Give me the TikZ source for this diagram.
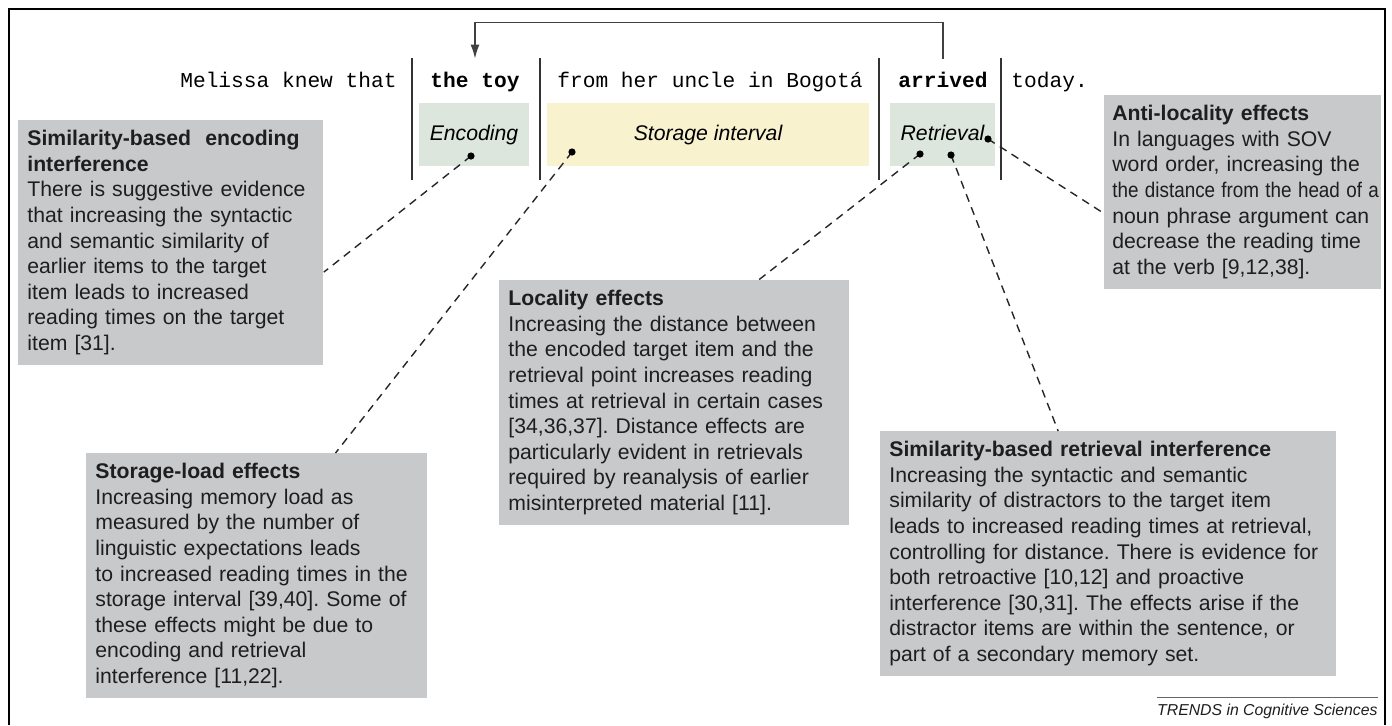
\documentclass[tikz,border=0pt]{standalone}
\usepackage{fontspec}
\setmainfont{Liberation Sans}
\setmonofont{Liberation Mono}
\usetikzlibrary{arrows.meta,calc}
\definecolor{notegray}{HTML}{C8C9CB}
\definecolor{encgreen}{HTML}{DCE6DC}
\definecolor{storeyellow}{HTML}{F8F2CE}
\definecolor{inkgray}{HTML}{1E1E1E}
\newcommand\notesize{\fontsize{10.6}{12.8}\selectfont\frenchspacing}

\tikzset{
  word/.style={font=\notesize\ttfamily, inner sep=0pt, minimum height=23pt, text height=7.5pt, text depth=2pt},
  stage/.style={font=\notesize\itshape, inner sep=0pt, minimum height=31.5pt, text height=7.5pt, text depth=2pt},
  note/.style={fill=notegray, text=inkgray, font=\notesize, anchor=north west, align=left, inner xsep=4.5pt, inner ysep=5pt},
  divider/.style={line width=0.8pt, black!80},
  leader/.style={line width=0.7pt, dash pattern=on 4pt off 3pt, black!85},
}

\begin{document}
\begin{tikzpicture}[x=0.5pt, y=-0.5pt]
  \useasboundingbox (0,0) rectangle (1392,725);
  \draw[line width=1pt] (9,725) -- (9,9) -- (1385,9) -- (1385,725);

  % sentence
  \node[word, anchor=east] (melissa) at (397,82) {Melissa knew that};
  \node[word] (thetoy) at (475,82) {\textbf{the toy}};
  \node[word] (uncle) at (710,82) {from her uncle in Bogotá};
  \node[word] (arrived) at (943,82) {\textbf{arrived}};
  \node[word, anchor=west] (today) at (1011,82) {today.};
  \foreach \x in {412,540,879,1001}
    \draw[divider] (\x,58) -- (\x,180);
  \draw[-{Latex[length=7pt,width=4.5pt]}, line width=0.8pt, black!75] (arrived.north) -- ++(0,-36) -| (thetoy.north);

  % stages
  \node[stage, fill=encgreen, minimum width=55pt] (encoding) at (474,134.5) {Encoding};
  \node[stage, fill=storeyellow, minimum width=161pt] (interval) at (708,134.5) {Storage interval};
  \node[stage, fill=encgreen, minimum width=52.5pt] (retrieval) at (942.5,134.5) {Retrieval};

  % notes
  \node[note, text width=143.5pt] (encnote) at (18,120) {\textbf{Similarity-based~ encoding}\\
    \textbf{interference}\\
    There is suggestive evidence\\
    that increasing the syntactic\\
    and semantic similarity of\\
    earlier items to the target\\
    item leads to increased\\
    reading times on the target\\
    item [31].};
  \node[note, text width=161.5pt] (loadnote) at (86,453) {\textbf{Storage-load effects}\\
    Increasing memory load as\\
    measured by the number of\\
    linguistic expectations leads\\
    to increased reading times in the\\
    storage interval [39,40]. Some of\\
    these effects might be due to\\
    encoding and retrieval\\
    interference [11,22].};
  \node[note, text width=166pt] (locnote) at (499,280) {\textbf{Locality effects}\\
    Increasing the distance between\\
    the encoded target item and the\\
    retrieval point increases reading\\
    times at retrieval in certain cases\\{}%
    [34,36,37]. Distance effects are\\
    particularly evident in retrievals\\
    required by reanalysis of earlier\\
    misinterpreted material [11].};
  \node[note, text width=130.5pt, inner xsep=4pt] (antinote) at (1104,95) {\textbf{Anti-locality effects}\\
    In languages with SOV\\
    word order, increasing the\\
    \scalebox{0.89}[1]{the distance from the head of a}\\
    noun phrase argument can\\
    decrease the reading time\\
    at the verb [9,12,38].};
  \node[note, text width=219pt] (retnote) at (880,431) {\textbf{Similarity-based retrieval interference}\\
    Increasing the syntactic and semantic\\
    similarity of distractors to the target item\\
    leads to increased reading times at retrieval,\\
    controlling for distance. There is evidence for\\
    both retroactive [10,12] and proactive\\
    interference [30,31]. The effects arise if the\\
    distractor items are within the sentence, or\\
    part of a secondary memory set.};

  % pins and leaders
  \coordinate (encpin) at (471,156);
  \coordinate (intpin) at (572,152);
  \coordinate (retpinA) at (920,154);
  \coordinate (retpinB) at (951,155);
  \coordinate (retpinC) at (988,139);
  \draw[leader] (encpin) -- ($(encnote.north east)!0.62!(encnote.south east)$);
  \draw[leader] (intpin) -- ($(loadnote.north west)!0.73!(loadnote.north east)$);
  \draw[leader] (retpinA) -- ($(locnote.north west)!0.74!(locnote.north east)$);
  \draw[leader] (retpinB) -- ($(retnote.north west)!0.39!(retnote.north east)$);
  \draw[leader] (retpinC) -- ($(antinote.north west)!0.61!(antinote.south west)$);
  \foreach \p in {encpin,intpin,retpinA,retpinB,retpinC}
    \fill (\p) circle (1.8pt);

  % credit
  \node[anchor=base east, inner sep=0pt, text=inkgray, font=\fontsize{7.9}{9}\selectfont\itshape] (trends) at (1378,715) {TRENDS in Cognitive Sciences};
  \draw[line width=0.4pt, black!60] ($(trends.base west)+(0,-18)$) -- ($(trends.base east)+(0,-18)$);
\end{tikzpicture}
\end{document}
